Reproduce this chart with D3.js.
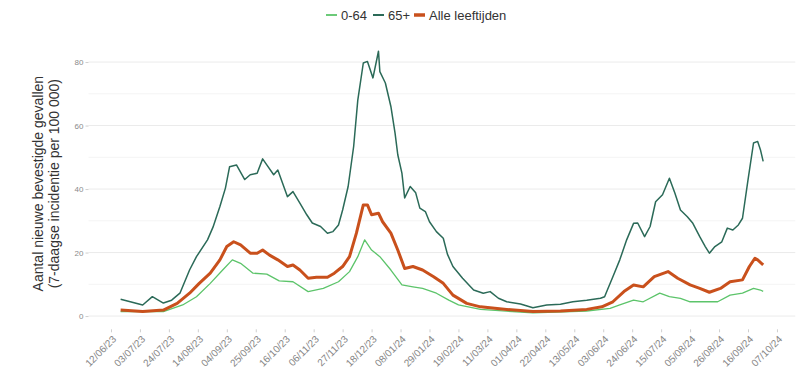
<!DOCTYPE html>
<html>
<head>
<meta charset="utf-8">
<script src="https://cdn.jsdelivr.net/npm/d3@7"></script>
<style>
  body { margin: 0; background: #fff; }
  svg { font-family: "Liberation Sans", Arial, sans-serif; }
</style>
</head>
<body>
<svg id="chart" width="800" height="383"></svg>
<script>
// series: [date, 7-day incidence per 100 000]
var age0to64 = [
  ["2023-06-19", 1.4], ["2023-07-20", 1.4], ["2023-08-03", 3.5], ["2023-08-13", 6.1],
  ["2023-08-23", 10.3], ["2023-09-01", 14.5], ["2023-09-08", 17.7], ["2023-09-14", 16.6],
  ["2023-09-23", 13.5], ["2023-10-03", 13.2], ["2023-10-12", 11.1], ["2023-10-22", 10.8],
  ["2023-11-02", 7.7], ["2023-11-13", 8.7], ["2023-11-24", 10.8], ["2023-12-02", 14.0],
  ["2023-12-08", 18.7], ["2023-12-13", 24.0], ["2023-12-18", 20.8], ["2023-12-24", 18.7],
  ["2024-01-01", 14.5], ["2024-01-09", 9.8], ["2024-01-17", 9.2], ["2024-01-24", 8.7],
  ["2024-02-03", 7.2], ["2024-02-12", 5.0], ["2024-02-19", 3.5], ["2024-03-06", 2.1],
  ["2024-04-13", 1.0], ["2024-05-22", 1.6], ["2024-06-08", 2.4], ["2024-06-15", 3.5],
  ["2024-06-25", 5.0], ["2024-07-02", 4.5], ["2024-07-14", 7.2], ["2024-07-21", 6.1],
  ["2024-07-29", 5.6], ["2024-08-05", 4.5], ["2024-08-14", 4.5], ["2024-08-25", 4.5],
  ["2024-09-03", 6.6], ["2024-09-12", 7.2], ["2024-09-20", 8.7], ["2024-09-25", 8.2],
  ["2024-09-27", 7.8]
];

var age65plus = [
  ["2023-06-19", 5.3], ["2023-06-26", 4.5], ["2023-07-05", 3.5], ["2023-07-12", 6.1],
  ["2023-07-20", 4.1], ["2023-07-26", 5.0], ["2023-08-01", 7.2], ["2023-08-08", 14.5],
  ["2023-08-13", 18.7], ["2023-08-21", 24.0], ["2023-08-25", 28.0], ["2023-08-30", 34.5],
  ["2023-09-03", 40.3], ["2023-09-06", 47.0], ["2023-09-11", 47.6], ["2023-09-17", 43.0],
  ["2023-09-21", 44.5], ["2023-09-26", 45.0], ["2023-09-30", 49.5], ["2023-10-03", 47.6],
  ["2023-10-08", 44.5], ["2023-10-11", 46.0], ["2023-10-18", 37.6], ["2023-10-22", 39.2],
  ["2023-10-27", 35.6], ["2023-11-01", 31.9], ["2023-11-05", 29.3], ["2023-11-11", 28.2],
  ["2023-11-16", 26.1], ["2023-11-20", 26.6], ["2023-11-24", 28.7], ["2023-11-27", 33.4],
  ["2023-12-01", 40.8], ["2023-12-05", 53.4], ["2023-12-08", 68.0], ["2023-12-12", 79.7],
  ["2023-12-15", 80.2], ["2023-12-19", 75.0], ["2023-12-23", 83.4], ["2023-12-24", 77.0],
  ["2023-12-28", 73.4], ["2024-01-01", 66.0], ["2024-01-04", 57.7], ["2024-01-06", 50.8],
  ["2024-01-09", 45.0], ["2024-01-11", 37.2], ["2024-01-15", 40.8], ["2024-01-19", 38.8],
  ["2024-01-22", 34.0], ["2024-01-26", 32.9], ["2024-01-29", 29.7], ["2024-02-03", 26.6],
  ["2024-02-08", 24.5], ["2024-02-11", 19.5], ["2024-02-15", 15.6], ["2024-02-22", 11.9],
  ["2024-03-01", 8.2], ["2024-03-08", 7.2], ["2024-03-13", 7.7], ["2024-03-19", 5.6],
  ["2024-03-25", 4.5], ["2024-04-04", 3.8], ["2024-04-13", 2.6], ["2024-04-23", 3.5],
  ["2024-05-03", 3.7], ["2024-05-12", 4.5], ["2024-05-22", 5.0], ["2024-06-01", 5.6],
  ["2024-06-04", 6.1], ["2024-06-06", 8.2], ["2024-06-10", 12.4], ["2024-06-15", 17.7],
  ["2024-06-20", 24.0], ["2024-06-25", 29.2], ["2024-06-28", 29.3], ["2024-07-03", 25.0],
  ["2024-07-07", 28.2], ["2024-07-11", 36.0], ["2024-07-16", 38.2], ["2024-07-21", 43.4],
  ["2024-07-25", 38.7], ["2024-07-29", 33.4], ["2024-08-03", 31.3], ["2024-08-07", 29.2],
  ["2024-08-12", 25.0], ["2024-08-16", 21.9], ["2024-08-19", 19.8], ["2024-08-23", 21.9],
  ["2024-08-28", 23.4], ["2024-09-01", 27.7], ["2024-09-05", 27.1], ["2024-09-09", 28.7],
  ["2024-09-12", 30.8], ["2024-09-16", 42.9], ["2024-09-20", 54.5], ["2024-09-23", 55.0],
  ["2024-09-25", 52.4], ["2024-09-27", 48.7]
];

var allAges = [
  ["2023-06-19", 1.9], ["2023-07-05", 1.4], ["2023-07-20", 1.9], ["2023-07-30", 4.0],
  ["2023-08-08", 7.2], ["2023-08-15", 10.3], ["2023-08-23", 13.5], ["2023-08-30", 17.7],
  ["2023-09-04", 21.9], ["2023-09-09", 23.4], ["2023-09-14", 22.4], ["2023-09-21", 19.8],
  ["2023-09-26", 19.8], ["2023-09-30", 20.8], ["2023-10-05", 19.2], ["2023-10-11", 17.7],
  ["2023-10-18", 15.6], ["2023-10-22", 16.1], ["2023-10-27", 14.5], ["2023-11-02", 11.9],
  ["2023-11-08", 12.2], ["2023-11-16", 12.2], ["2023-11-21", 13.5], ["2023-11-27", 15.6],
  ["2023-12-02", 18.7], ["2023-12-07", 26.1], ["2023-12-12", 35.0], ["2023-12-15", 35.0],
  ["2023-12-18", 31.9], ["2023-12-23", 32.4], ["2023-12-26", 29.7], ["2024-01-01", 26.1],
  ["2024-01-06", 20.8], ["2024-01-11", 15.0], ["2024-01-17", 15.6], ["2024-01-24", 14.5],
  ["2024-02-01", 12.4], ["2024-02-08", 10.3], ["2024-02-15", 6.6], ["2024-02-25", 4.0],
  ["2024-03-06", 2.9], ["2024-03-25", 2.1], ["2024-04-13", 1.4], ["2024-05-03", 1.6],
  ["2024-05-22", 2.1], ["2024-06-02", 2.9], ["2024-06-10", 4.5], ["2024-06-18", 7.7],
  ["2024-06-25", 9.8], ["2024-07-02", 9.2], ["2024-07-10", 12.4], ["2024-07-20", 14.0],
  ["2024-07-27", 11.9], ["2024-08-05", 9.8], ["2024-08-12", 8.7], ["2024-08-19", 7.5],
  ["2024-08-27", 8.7], ["2024-09-03", 10.8], ["2024-09-12", 11.4], ["2024-09-17", 15.6],
  ["2024-09-21", 18.2], ["2024-09-23", 17.7], ["2024-09-27", 16.1]
];

var seriesNames = ["0-64", "65+", "Alle leeftijden"];
var seriesColors = ["#5cc46a", "#2b6a58", "#c9501c"];
var seriesWidths = [1.3, 1.5, 3];

var xTickLabels = ["12/06/23", "03/07/23", "24/07/23", "14/08/23", "04/09/23", "25/09/23",
  "16/10/23", "06/11/23", "27/11/23", "18/12/23", "08/01/24", "29/01/24", "19/02/24",
  "11/03/24", "01/04/24", "22/04/24", "13/05/24", "03/06/24", "24/06/24", "15/07/24",
  "05/08/24", "26/08/24", "16/09/24", "07/10/24"];
var yTicks = [0, 20, 40, 60, 80];
var yMinor = [10, 30, 50, 70];

var yTitle = ["Aantal nieuwe bevestigde gevallen", "(7-daagse incidentie per 100 000)"];

var parseIso = d3.timeParse("%Y-%m-%d");
var parseTick = d3.timeParse("%d/%m/%y");

var allSeries = [age0to64, age65plus, allAges].map(function(s) {
  return s.map(function(p) { return {date: parseIso(p[0]), value: p[1]}; });
});

var svg = d3.select("#chart");
var panel = {left: 88.5, right: 795.3, top: 38, bottom: 329.3};

// ggplot-like 5% expansion of the data range
var flat = d3.merge(allSeries);
var dExt = d3.extent(flat, function(d) { return d.date; });
var dPad = (dExt[1] - dExt[0]) * 0.05;
var vMax = d3.max(flat, function(d) { return d.value; });

var x = d3.scaleTime()
  .domain([new Date(+dExt[0] - dPad), new Date(+dExt[1] + dPad)])
  .range([panel.left, panel.right]);
var y = d3.scaleLinear()
  .domain([-vMax * 0.05, vMax * 1.05])
  .range([panel.bottom, panel.top]);

// grid
svg.append("g").selectAll("line.minor").data(yMinor).enter().append("line")
  .attr("x1", panel.left).attr("x2", panel.right)
  .attr("y1", function(d) { return y(d); }).attr("y2", function(d) { return y(d); })
  .style("stroke", "#f4f4f4").style("stroke-width", 1);
svg.append("g").selectAll("line.major").data(yTicks).enter().append("line")
  .attr("x1", panel.left).attr("x2", panel.right)
  .attr("y1", function(d) { return y(d); }).attr("y2", function(d) { return y(d); })
  .style("stroke", "#ebebeb").style("stroke-width", 1);

// y axis
var yAxis = svg.append("g")
  .attr("transform", "translate(" + panel.left + ",0)")
  .call(d3.axisLeft(y).tickValues(yTicks).tickSize(3).tickPadding(2));
yAxis.select(".domain").remove();
yAxis.selectAll("line").style("stroke", "#cfcfcf");
yAxis.selectAll("text").style("fill", "#8a8a8a").style("font-size", "8px");

// x axis
var tickDates = xTickLabels.map(parseTick);
var xAxis = svg.append("g")
  .attr("transform", "translate(0," + panel.bottom + ")")
  .call(d3.axisBottom(x).tickValues(tickDates).tickSize(3)
    .tickFormat(function(d, i) { return xTickLabels[i]; }));
xAxis.select(".domain").remove();
xAxis.selectAll("line").style("stroke", "#cfcfcf");
xAxis.selectAll("text")
  .style("fill", "#858585").style("font-size", "10px")
  .attr("text-anchor", "end")
  .attr("dx", 0).attr("dy", "0.35em")
  .attr("transform", "translate(3,8) rotate(-45)")
  .attr("y", 0).attr("x", 0);

// lines
var line = d3.line()
  .x(function(d) { return x(d.date); })
  .y(function(d) { return y(d.value); });

svg.append("g").selectAll("path").data(allSeries).enter().append("path")
  .attr("d", line)
  .style("fill", "none")
  .style("stroke", function(d, i) { return seriesColors[i]; })
  .style("stroke-width", function(d, i) { return seriesWidths[i]; })
  .style("stroke-linejoin", "round");

// y title
var yt = svg.append("text")
  .attr("transform", "translate(0," + ((panel.top + panel.bottom) / 2) + ") rotate(-90)")
  .attr("text-anchor", "middle")
  .style("font-size", "14px")
  .style("fill", "#333");
yt.selectAll("tspan").data(yTitle).enter().append("tspan")
  .attr("x", 0)
  .attr("y", function(d, i) { return 43 + i * 16; })
  .text(function(d) { return d; });

// legend
var legendX = [326, 373, 414];
var lg = svg.append("g").selectAll("g").data(seriesNames).enter().append("g")
  .attr("transform", function(d, i) { return "translate(" + legendX[i] + ",15)"; });
lg.append("line")
  .attr("x1", 0).attr("x2", 11)
  .style("stroke", function(d, i) { return seriesColors[i]; })
  .style("stroke-width", function(d, i) { return seriesWidths[i] + 0.5; });
lg.append("text")
  .attr("x", 15).attr("dy", "0.35em")
  .style("font-size", "13px").style("fill", "#333")
  .text(function(d) { return d; });
</script>
</body>
</html>
